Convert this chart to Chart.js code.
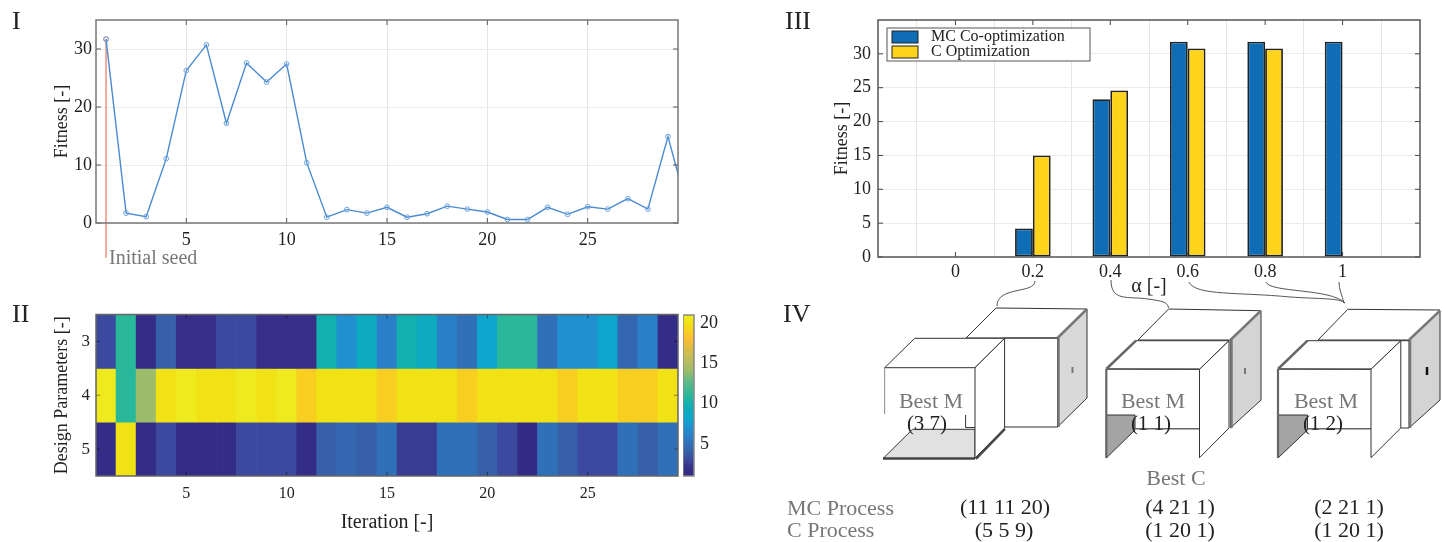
<!DOCTYPE html>
<html>
<head>
<meta charset="utf-8">
<script src="https://cdn.jsdelivr.net/npm/chart.js@4"></script>
<style>
  html, body { margin: 0; padding: 0; background: #fff; }
  body { position: relative; width: 1442px; height: 542px; overflow: hidden; }
  canvas { position: absolute; }
  svg { position: absolute; left: 0; top: 0; }
  svg text { font-family: "Liberation Serif", serif; }
</style>
</head>
<body>
<canvas id="fitnessChart" style="left:51px;top:0;width:639px;height:270px"></canvas>
<canvas id="heatChart" style="left:51px;top:290px;width:639px;height:245px"></canvas>
<canvas id="barChart" style="left:831px;top:0;width:601px;height:299px"></canvas>
<canvas id="colorbarChart" style="left:683px;top:290px;width:49px;height:204px"></canvas>

<svg width="1442" height="542" viewBox="0 0 1442 542">
  <g font-size="26" fill="#222">
    <text x="12" y="29">I</text>
    <text x="12" y="322">II</text>
    <text x="785" y="29">III</text>
    <text x="783" y="322">IV</text>
  </g>
  <text x="109" y="264" font-size="20" fill="#777">Initial seed</text>

  <!-- connectors from alpha ticks to the designs -->
  <g fill="none" stroke="#444" stroke-width="0.9">
    <path d="M1035,281 C1035,294 997,286 997,306"/>
    <path d="M1111,280 C1111,302 1128,296 1148,299 C1162,301 1168,302 1168.5,308"/>
    <path d="M1189,282 C1195,296 1240,292 1290,297 C1320,299 1340,298 1345,303"/>
    <path d="M1266,282 C1270,293 1330,288 1345,303"/>
    <path d="M1339,282 C1339,290 1342,295 1344,303"/>
  </g>

  <!-- design 1 -->
  <g stroke="#333" stroke-width="1" fill="#fff">
    <polygon points="966,338 996,308 1087,309 1057.5,338"/>
    <polygon points="1057.5,338 1087,309 1087,398 1057.5,427" fill="#d9d9d9"/>
    <path d="M1057.5,338 L1087,309" stroke="#777" stroke-width="2.5"/>
    <path d="M1058.5,338 V427" stroke="#777" stroke-width="2.5"/>
    <path d="M1004.6,338 H1057.5 M1004.6,427 H1057.5" stroke-width="1.2"/>
    <polygon points="884.7,367.7 914.7,338.3 1004.6,338.3 975,367.7"/>
    <path d="M884.7,367.7 V414" fill="none" stroke="#888"/>
    <path d="M965.6,415 V427.5 H975" fill="none"/>
    <polygon points="883,458.5 912.6,429.3 975,429.3 975,458.5" fill="#e1e1e1"/>
    <polygon points="975,367.7 1004.6,338.3 1004.6,428 975,458"/>
    <path d="M883,458.5 H975" stroke="#444" stroke-width="2.5"/>
    <path d="M976,459 L1005,429" stroke-width="2.2" stroke="#444"/>
    <path d="M1072.5,367 V373" stroke="#777" stroke-width="2"/>
  </g>

  <!-- design 2 -->
  <g stroke="#333" stroke-width="1" fill="#fff">
    <polygon points="1138,340 1168.6,309 1260,310.7 1230.4,340"/>
    <polygon points="1230.4,340 1261,310.7 1261,400 1230.4,428" fill="#d4d4d4"/>
    <path d="M1230.4,340 L1261,310.7" stroke="#777" stroke-width="2.5"/>
    <path d="M1231.5,340 V428" stroke="#777" stroke-width="2.5"/>
    <polygon points="1106.3,369 1136,340.7 1229,340.7 1199.5,369.3"/>
    <path d="M1106.3,369 H1199.5" fill="none"/>
    <polygon points="1106.3,415 1135,415 1135,430 1106.3,458" fill="#a4a4a4"/>
    <path d="M1135,428.7 H1199.5" stroke="#666" stroke-width="1.5" fill="none"/>
    <polygon points="1199.5,369.3 1229,340.7 1229,428 1199.5,457.7"/>
    <path d="M1106.3,369 L1136,340.7" stroke="#666" stroke-width="2.5"/>
    <path d="M1106.3,369 V458" stroke="#666" stroke-width="2.2"/>
    <path d="M1245,368 V374" stroke="#777" stroke-width="2"/>
  </g>

  <!-- design 3 -->
  <g stroke="#333" stroke-width="1" fill="#fff">
    <polygon points="1318,340 1347.8,309.3 1440,310 1410,340"/>
    <polygon points="1409,340 1440,310.7 1440,400 1409,428" fill="#d4d4d4"/>
    <path d="M1409,340 L1440,310.7" stroke="#777" stroke-width="2.5"/>
    <path d="M1410,340 V428" stroke="#777" stroke-width="2.5"/>
    <path d="M1400.8,340.7 H1409 M1400.8,428 H1409" fill="none"/>
    <polygon points="1278,369 1307.5,340.7 1400.8,340.7 1371,369.3"/>
    <path d="M1278,369 H1371" fill="none"/>
    <polygon points="1278,415 1307.5,415 1307.5,430 1278,458" fill="#a4a4a4"/>
    <path d="M1307.5,428.7 H1371" stroke="#666" stroke-width="1.5" fill="none"/>
    <polygon points="1371,369.3 1400.8,340.7 1400.8,428 1371,457.7"/>
    <path d="M1278,369 L1307.5,340.7" stroke="#666" stroke-width="2.5"/>
    <path d="M1278,369 V458" stroke="#666" stroke-width="2.2"/>
    <path d="M1427,367 V375" stroke="#111" stroke-width="2.5"/>
  </g>

  <g font-size="22" fill="#777" text-anchor="middle">
    <text x="931" y="408">Best M</text>
    <text x="1153" y="408">Best M</text>
    <text x="1326" y="408">Best M</text>
    <text x="1176" y="485">Best C</text>
  </g>
  <g font-size="21" fill="#222" text-anchor="middle">
    <text x="927" y="430">(3 7)</text>
    <text x="1151" y="430">(1 1)</text>
    <text x="1323" y="430">(1 2)</text>
  </g>
  <g font-size="22" fill="#777">
    <text x="787" y="515">MC Process</text>
    <text x="787" y="537">C Process</text>
  </g>
  <g font-size="22" fill="#222" text-anchor="middle">
    <text x="1005" y="514">(11 11 20)</text>
    <text x="1004" y="537">(5 5 9)</text>
    <text x="1180" y="514">(4 21 1)</text>
    <text x="1180" y="537">(1 20 1)</text>
    <text x="1349" y="514">(2 21 1)</text>
    <text x="1349" y="537">(1 20 1)</text>
  </g>
</svg>

<script>
// Panel I
const iterations = [1, 2, 3, 4, 5, 6, 7, 8, 9, 10, 11, 12, 13, 14, 15, 16, 17, 18, 19, 20, 21, 22, 23, 24, 25, 26, 27, 28, 29, 30];
const fitness = [31.7, 1.7, 1.1, 11.1, 26.3, 30.7, 17.2, 27.6, 24.3, 27.4, 10.4, 1.0, 2.3, 1.7, 2.7, 1.0, 1.6, 2.9, 2.4, 1.9, 0.6, 0.6, 2.7, 1.5, 2.8, 2.4, 4.2, 2.4, 14.9, 2.1];
const seedX = [1, 1];
const seedY = [31.7, -6];
const fitnessXTicks = [5, 10, 15, 20, 25];
const fitnessYTicks = [0, 10, 20, 30];

// Panel II, rows are design parameters 3, 4, 5
const heatRows = [3, 4, 5];
const row3 = [3, 11, 1.5, 4, 2, 2, 3, 3, 2, 2, 2, 10, 7, 9, 6, 10, 9, 6, 5, 8, 11, 11, 5, 7, 7, 8, 4.5, 6, 1.5];
const row4 = [21, 11, 14, 20, 21, 20, 20, 21, 20, 21, 19, 20, 20, 20, 19, 20, 20, 20, 19, 20, 20, 20, 20, 19, 20, 20, 19, 19, 20];
const row5 = [1.5, 20, 1.5, 3, 1.5, 1.5, 1.5, 3, 3, 3, 1.5, 4, 4.5, 4, 5, 2.5, 2.5, 5, 5, 4, 3, 1, 5, 4, 3, 3, 5, 4, 5];
const heatXTicks = [5, 10, 15, 20, 25];
const colorbarTicks = [5, 10, 15, 20];
const colorStops = [
  [1, '#332a85'], [2, '#352f88'], [3, '#3b4a9e'], [4, '#3660a8'], [5, '#2f70b8'],
  [6, '#2a80c8'], [7, '#2090d0'], [8, '#0ea5cc'], [9, '#0dabc0'], [10, '#12b0ae'],
  [11, '#2ab89b'], [13, '#67bb83'], [14, '#9cbb6b'], [16, '#c9bc55'], [18, '#fbbd33'],
  [19, '#f8cf20'], [20, '#f1e215'], [21, '#eeea1e'],
];

// Panel III
const alphaLabels = ['', '0', '0.2', '0.4', '0.6', '0.8', '1', ''];
const mcFitness = [null, 0, 4.2, 23.3, 31.8, 31.8, 31.8, null];
const cFitness = [null, 0, 15, 24.6, 30.8, 30.8, 0, null];
const barYTicks = [0, 5, 10, 15, 20, 25, 30];

Chart.defaults.font.family = '"Liberation Serif", serif';
Chart.defaults.color = '#222';
Chart.defaults.animation = false;
Chart.defaults.responsive = false;
Chart.defaults.plugins.legend.display = false;
Chart.defaults.plugins.tooltip.enabled = false;

const hexToRgb = (h) => [1, 3, 5].map((i) => parseInt(h.slice(i, i + 2), 16));
const colorFor = (v) => {
  for (let i = 1; i < colorStops.length; i++) {
    if (v <= colorStops[i][0]) {
      const [v0, c0] = colorStops[i - 1];
      const [v1, c1] = colorStops[i];
      const t = (v - v0) / (v1 - v0);
      const a = hexToRgb(c0);
      const b = hexToRgb(c1);
      return `rgb(${a.map((x, k) => Math.round(x + (b[k] - x) * t)).join(',')})`;
    }
  }
  return colorStops[colorStops.length - 1][1];
};

const tickList = (list) => (scale) => {
  scale.ticks = list.map((v) => ({ value: v }));
};

// frame round the plot plus the short ticks that point inwards
const boxFrame = {
  id: 'boxFrame',
  afterDraw(chart, args, opts) {
    const { ctx, chartArea: a, scales } = chart;
    const len = opts.tickLength === undefined ? 5 : opts.tickLength;
    ctx.save();
    ctx.strokeStyle = opts.tickColor || '#555';
    ctx.lineWidth = 1;
    ctx.beginPath();
    if (len > 0) {
      scales.x.ticks.forEach((t, i) => {
        const px = scales.x.getPixelForTick(i);
        if (!t.label) return;
        ctx.moveTo(px, a.top);
        ctx.lineTo(px, a.top + len);
        ctx.moveTo(px, a.bottom);
        ctx.lineTo(px, a.bottom - len);
      });
      scales.y.ticks.forEach((t, i) => {
        const py = scales.y.getPixelForTick(i);
        ctx.moveTo(a.left, py);
        ctx.lineTo(a.left + len, py);
        ctx.moveTo(a.right, py);
        ctx.lineTo(a.right - len, py);
      });
    }
    ctx.stroke();
    ctx.strokeStyle = opts.color || '#777';
    ctx.lineWidth = opts.width || 1.5;
    ctx.strokeRect(a.left, a.top, a.right - a.left, a.bottom - a.top);
    ctx.restore();
  },
};

// legend of panel III, sits on top of the grid lines
const frameLegend = {
  id: 'frameLegend',
  afterDatasetsDraw(chart) {
    const { ctx, chartArea: a } = chart;
    const x = a.left + 9;
    const y = a.top + 8;
    ctx.save();
    ctx.fillStyle = '#fff';
    ctx.strokeStyle = '#555';
    ctx.lineWidth = 1;
    ctx.fillRect(x, y, 203, 33);
    ctx.strokeRect(x, y, 203, 33);
    ctx.font = '16px "Liberation Serif"';
    ctx.textBaseline = 'middle';
    chart.data.datasets.forEach((ds, i) => {
      const top = y + 3 + i * 15;
      ctx.fillStyle = ds.backgroundColor;
      ctx.fillRect(x + 5, top, 26, 12);
      ctx.strokeStyle = '#222';
      ctx.strokeRect(x + 5, top, 26, 12);
      ctx.fillStyle = '#222';
      ctx.fillText(ds.label, x + 44, top + 6);
    });
    ctx.restore();
  },
};

const gridColor = '#ececec';

new Chart(document.getElementById('fitnessChart'), {
  type: 'line',
  data: {
    datasets: [
      {
        data: iterations.map((x, i) => ({ x: x, y: fitness[i] })),
        borderColor: '#4a8ad0',
        borderWidth: 1.4,
        tension: 0,
        pointRadius: 2.4,
        pointBackgroundColor: 'rgba(255,255,255,0)',
        pointBorderColor: '#6ea2dc',
        pointBorderWidth: 1,
      },
      {
        data: seedX.map((x, i) => ({ x: x, y: seedY[i] })),
        borderColor: '#f08a76',
        borderWidth: 1.4,
        clip: false,
        pointRadius: [2.4, 0],
        pointBackgroundColor: 'rgba(255,255,255,0)',
        pointBorderColor: '#f08a76',
        pointBorderWidth: 1,
      },
    ],
  },
  options: {
    layout: { padding: { top: 20, right: 12 } },
    scales: {
      x: {
        type: 'linear',
        min: 0.5,
        max: 29.5,
        afterBuildTicks: tickList(fitnessXTicks),
        afterFit: (s) => { s.height = 47; },
        grid: { color: '#e6e6e6', drawTicks: false },
        border: { display: false },
        ticks: { font: { size: 18 }, padding: 6, maxRotation: 0 },
      },
      y: {
        min: 0,
        max: 35,
        afterBuildTicks: tickList(fitnessYTicks),
        afterFit: (s) => { s.width = 45; },
        grid: { color: gridColor, drawTicks: false },
        border: { display: false },
        ticks: { font: { size: 18 }, padding: 4 },
        title: { display: true, text: 'Fitness [-]', font: { size: 18 }, padding: 0 },
      },
    },
    plugins: { boxFrame: { color: '#777', tickColor: '#555' } },
  },
  plugins: [boxFrame],
});

new Chart(document.getElementById('heatChart'), {
  type: 'bar',
  data: {
    labels: iterations.slice(0, row3.length),
    datasets: [row3, row4, row5].map((row, i) => ({
      data: row.map(() => [heatRows[i] - 0.5, heatRows[i] + 0.5]),
      backgroundColor: row.map(colorFor),
      borderWidth: 0,
      grouped: false,
      barPercentage: 1,
      categoryPercentage: 1,
    })),
  },
  options: {
    layout: { padding: { top: 24.5, right: 12 } },
    scales: {
      x: {
        afterBuildTicks: tickList(heatXTicks.map((v) => v - 1)),
        afterFit: (s) => { s.height = 59; },
        grid: { display: false, drawTicks: false },
        border: { display: false },
        ticks: { font: { size: 16 }, padding: 8, autoSkip: false, maxRotation: 0 },
        title: { display: true, text: 'Iteration [-]', font: { size: 20 }, padding: 0 },
      },
      y: {
        type: 'linear',
        min: 2.5,
        max: 5.5,
        reverse: true,
        afterBuildTicks: tickList(heatRows),
        afterFit: (s) => { s.width = 45; },
        grid: { display: false, drawTicks: false },
        border: { display: false },
        ticks: { font: { size: 17 }, padding: 6 },
        title: { display: true, text: 'Design Parameters [-]', font: { size: 18 }, padding: 0 },
      },
    },
    plugins: { boxFrame: { color: '#666', tickColor: 'rgba(0,0,0,0.45)', tickLength: 4 } },
  },
  plugins: [boxFrame],
});

new Chart(document.getElementById('colorbarChart'), {
  type: 'bar',
  data: {
    labels: [''],
    datasets: [
      {
        data: [[1, 21]],
        borderWidth: 0,
        barPercentage: 1,
        categoryPercentage: 1,
        backgroundColor: (c) => {
          const { chartArea, ctx, scales } = c.chart;
          if (!chartArea) return null;
          const g = ctx.createLinearGradient(0, scales.y.getPixelForValue(1), 0, scales.y.getPixelForValue(21));
          colorStops.forEach(([v, col]) => g.addColorStop((v - 1) / 20, col));
          return g;
        },
      },
    ],
  },
  options: {
    layout: { padding: { top: 25, bottom: 18 } },
    scales: {
      x: { display: false },
      y: {
        position: 'right',
        min: 1,
        max: 21,
        afterBuildTicks: tickList(colorbarTicks),
        afterFit: (s) => { s.width = 38; },
        grid: { display: false, drawTicks: false },
        border: { display: false },
        ticks: { font: { size: 18 }, padding: 6 },
      },
    },
    plugins: { boxFrame: { color: '#888', tickLength: 0 } },
  },
  plugins: [boxFrame],
});

new Chart(document.getElementById('barChart'), {
  type: 'bar',
  data: {
    labels: alphaLabels,
    datasets: [
      { label: 'MC Co-optimization', data: mcFitness, backgroundColor: '#0f6db5' },
      { label: 'C Optimization', data: cFitness, backgroundColor: '#fdd31c' },
    ].map((d) => ({
      ...d,
      borderColor: '#222',
      borderWidth: 1.8,
      borderSkipped: false,
      barPercentage: 1,
      categoryPercentage: 0.46,
    })),
  },
  options: {
    layout: { padding: { top: 20, right: 12 } },
    scales: {
      x: {
        offset: false,
        afterFit: (s) => { s.height = 42; },
        grid: { color: '#e6e6e6', drawTicks: false },
        border: { display: false },
        ticks: { font: { size: 18 }, padding: 4, autoSkip: false, maxRotation: 0 },
        title: { display: true, text: 'α [-]', font: { size: 20 }, padding: 0 },
      },
      y: {
        min: 0,
        max: 35,
        afterBuildTicks: tickList(barYTicks),
        afterFit: (s) => { s.width = 47; },
        grid: { color: gridColor, drawTicks: false },
        border: { display: false },
        ticks: { font: { size: 18 }, padding: 7 },
        title: { display: true, text: 'Fitness [-]', font: { size: 18 }, padding: 0 },
      },
    },
    plugins: { boxFrame: { color: '#555', tickColor: '#444' } },
  },
  plugins: [boxFrame, frameLegend],
});
</script>
</body>
</html>
